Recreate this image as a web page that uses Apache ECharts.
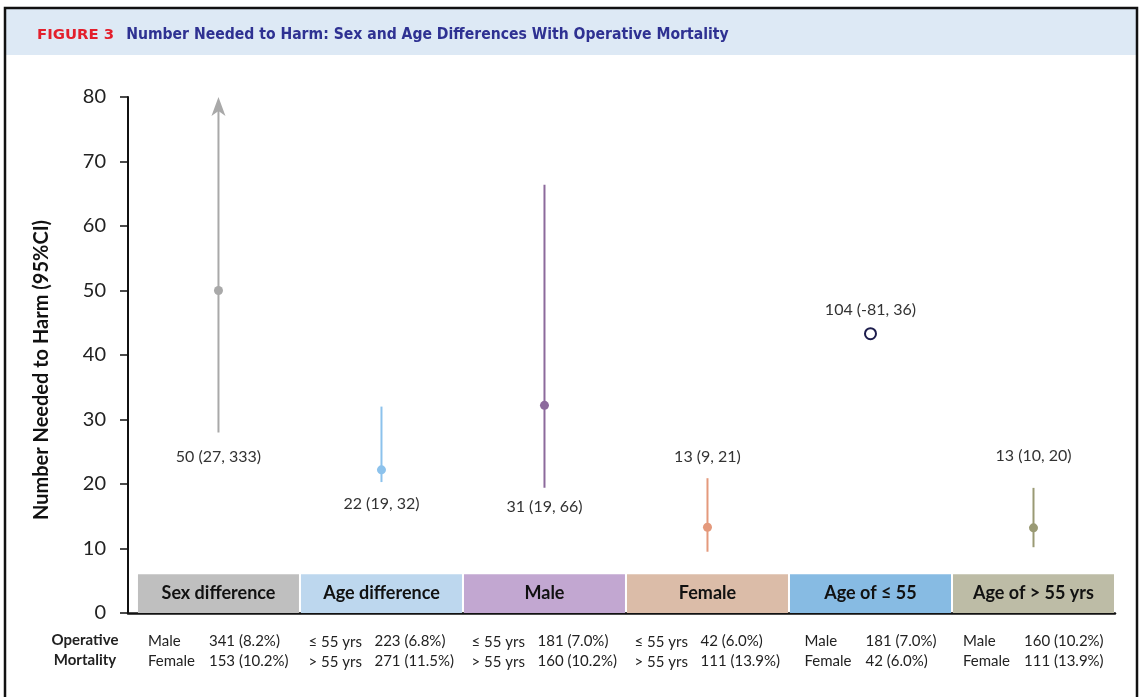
<!DOCTYPE html>
<html>
<head>
<meta charset="utf-8">
<script src="https://cdn.jsdelivr.net/npm/echarts@6/dist/echarts.min.js"></script>
<style>html,body{margin:0;padding:0;background:#fff}#c{width:1143px;height:697px}</style>
</head>
<body>
<div id="c"></div>
<script>
// ---- data ----
const categories = ['Sex difference', 'Age difference', 'Male', 'Female', 'Age of \u2264 55', 'Age of > 55 yrs'];
const estimates = [50, 22.2, 32.2, 13.3, 43.3, 13.2];
const ciLow = [28, 20.3, 19.4, 9.5, null, 10.2];
const ciHigh = [80, 32, 66.4, 20.9, null, 19.4];
const ciTruncated = [true, false, false, false, false, false];
const pointLabels = ['50 (27, 333)', '22 (19, 32)', '31 (19, 66)', '13 (9, 21)', '104 (-81, 36)', '13 (10, 20)'];
const groupLabels = [
  ['Male', 'Female'],
  ['\u2264 55 yrs', '> 55 yrs'],
  ['\u2264 55 yrs', '> 55 yrs'],
  ['\u2264 55 yrs', '> 55 yrs'],
  ['Male', 'Female'],
  ['Male', 'Female']
];
const mortality = [
  ['341 (8.2%)', '153 (10.2%)'],
  ['223 (6.8%)', '271 (11.5%)'],
  ['181 (7.0%)', '160 (10.2%)'],
  ['42 (6.0%)', '111 (13.9%)'],
  ['181 (7.0%)', '42 (6.0%)'],
  ['160 (10.2%)', '111 (13.9%)']
];
const bandValue = 6;
const yMin = 0, yMax = 80, yStep = 10;

// ---- styles ----
const lineColors = ['#a9a9a9', '#8cc2ec', '#8c6a9c', '#e4997c', '#1c1c4c', '#9a9a74'];
const boxColors = ['#bfbfbf', '#bdd7ee', '#c2a7d1', '#dbbca8', '#87bbe3', '#bdbca6'];
const labelAnchor = ['low', 'low', 'low', 'high', 'point', 'high'];
const labelGap = [24, 22, 19, -21, -24, -32];
const FONT = 'Lato, "Open Sans", sans-serif';
const TABLE_FONT_SIZE = 15;

// measure column widths for the table under the axis
const mctx = document.createElement('canvas').getContext('2d');
mctx.font = TABLE_FONT_SIZE + 'px Lato';
const valueWidths = mortality.map(r => Math.ceil(Math.max(...r.map(s => mctx.measureText(s).width))));

const chart = echarts.init(document.getElementById('c'), null, {renderer: 'canvas'});

function renderItem(params, api) {
  const idx = params.dataIndex;
  const x = api.value(0);
  const color = lineColors[idx];
  const pt = api.coord([x, api.value(1)]);
  const children = [];
  let anchorY = pt[1];
  if (ciLow[idx] != null) {
    const lo = api.coord([x, ciLow[idx]]);
    const hi = api.coord([x, ciHigh[idx]]);
    const trunc = ciTruncated[idx];
    children.push({
      type: 'line',
      shape: {x1: lo[0], y1: lo[1], x2: hi[0], y2: trunc ? hi[1] + 10 : hi[1]},
      style: {stroke: color, lineWidth: 2}
    });
    if (trunc) {
      children.push({
        type: 'polygon',
        shape: {points: [[hi[0], hi[1]], [hi[0] + 7, hi[1] + 19], [hi[0], hi[1] + 14], [hi[0] - 7, hi[1] + 19]]},
        style: {fill: color}
      });
    }
    children.push({type: 'circle', shape: {cx: pt[0], cy: pt[1], r: 4.5}, style: {fill: color}});
    if (labelAnchor[idx] === 'low') anchorY = lo[1];
    else if (labelAnchor[idx] === 'high') anchorY = hi[1];
  } else {
    children.push({type: 'circle', shape: {cx: pt[0], cy: pt[1], r: 5.5}, style: {fill: '#fff', stroke: color, lineWidth: 2}});
  }
  children.push({
    type: 'text',
    style: {
      text: pointLabels[idx], x: pt[0], y: anchorY + labelGap[idx],
      align: 'center', verticalAlign: 'middle',
      font: '16px ' + FONT, fill: '#333'
    }
  });
  return {type: 'group', children};
}

const rich = {};
valueWidths.forEach((w, i) => {
  rich['b' + i] = {width: w, align: 'left', fontSize: TABLE_FONT_SIZE, fontFamily: FONT, color: '#222', lineHeight: 20};
});
rich.a = {width: 61, align: 'left', fontSize: TABLE_FONT_SIZE, fontFamily: FONT, color: '#222', lineHeight: 20};
rich.c = {width: 66, align: 'left', fontSize: TABLE_FONT_SIZE, fontFamily: FONT, color: '#222', lineHeight: 20, padding: [3, 0, 0, 0]};

const option = {
  backgroundColor: '#fff',
  animation: false,
  title: {
    left: 37, top: 27, padding: 0,
    text: '{f|FIGURE 3}{t|Number Needed to Harm: Sex and Age Differences With Operative Mortality}',
    textStyle: {
      rich: {
        f: {color: '#e31f2c', fontWeight: 'bold', fontSize: 14.9, fontFamily: '"DejaVu Sans", sans-serif', padding: [0, 12, 0, 0]},
        t: {color: '#2e3192', fontWeight: 'bold', fontSize: 15.6, fontFamily: '"DejaVu Sans Condensed", "DejaVu Sans", sans-serif'}
      }
    }
  },
  graphic: [
    {type: 'rect', z: -10, shape: {x: 6, y: 9, width: 1131, height: 46}, style: {fill: '#dde9f5'}},
    {type: 'rect', z: 10, shape: {x: 5, y: 8, width: 1132, height: 720}, style: {fill: null, stroke: '#111', lineWidth: 2.5}},
    {type: 'text', x: 85, y: 650, style: {text: 'Operative\nMortality', font: 'bold 15px ' + FONT, fill: '#222', align: 'center', verticalAlign: 'middle', lineHeight: 20}},
    {type: 'text', x: 42, y: 370, rotation: Math.PI / 2, style: {text: 'Number Needed to Harm (95%CI)', font: 'bold 20px ' + FONT, fill: '#111', align: 'center', verticalAlign: 'middle'}}
  ],
  grid: {left: 128, right: 28, top: 97, bottom: 84, containLabel: false, outerBoundsMode: 'none'},
  xAxis: {
    type: 'value', min: -0.555, max: 5.5,
    splitLine: {show: false},
    axisTick: {show: false},
    axisLine: {show: true, onZero: false, lineStyle: {color: '#111', width: 2.5}},
    axisLabel: {
      customValues: categories.map((c, i) => i),
      margin: 18,
      formatter: function (v) {
        const i = Math.round(v);
        const wide = groupLabels[i][0].indexOf('yrs') >= 0;
        const k = wide ? 'c' : 'a';
        return '{' + k + '|' + groupLabels[i][0] + '}{b' + i + '|' + mortality[i][0] + '}\n{' + k + '|' + groupLabels[i][1] + '}{b' + i + '|' + mortality[i][1] + '}';
      },
      rich: rich
    }
  },
  yAxis: {
    type: 'value', min: yMin, max: yMax, interval: yStep,
    splitLine: {show: false},
    axisLine: {show: true, onZero: false, lineStyle: {color: '#111', width: 2}},
    axisTick: {show: true, length: 8, lineStyle: {color: '#111', width: 1.5}},
    axisLabel: {fontSize: 20, fontFamily: FONT, color: '#222', margin: 22}
  },
  series: [
    {
      type: 'bar',
      barWidth: 161,
      silent: true,
      data: categories.map((c, i) => ({value: [i, bandValue], itemStyle: {color: boxColors[i]}})),
      label: {
        show: true, position: 'inside',
        formatter: p => categories[p.dataIndex],
        fontSize: 18, fontWeight: 'bold', fontFamily: FONT, color: '#111'
      }
    },
    {
      type: 'custom',
      renderItem: renderItem,
      data: categories.map((c, i) => [i, estimates[i]]),
      z: 5
    }
  ]
};
chart.setOption(option);
</script>
</body>
</html>
